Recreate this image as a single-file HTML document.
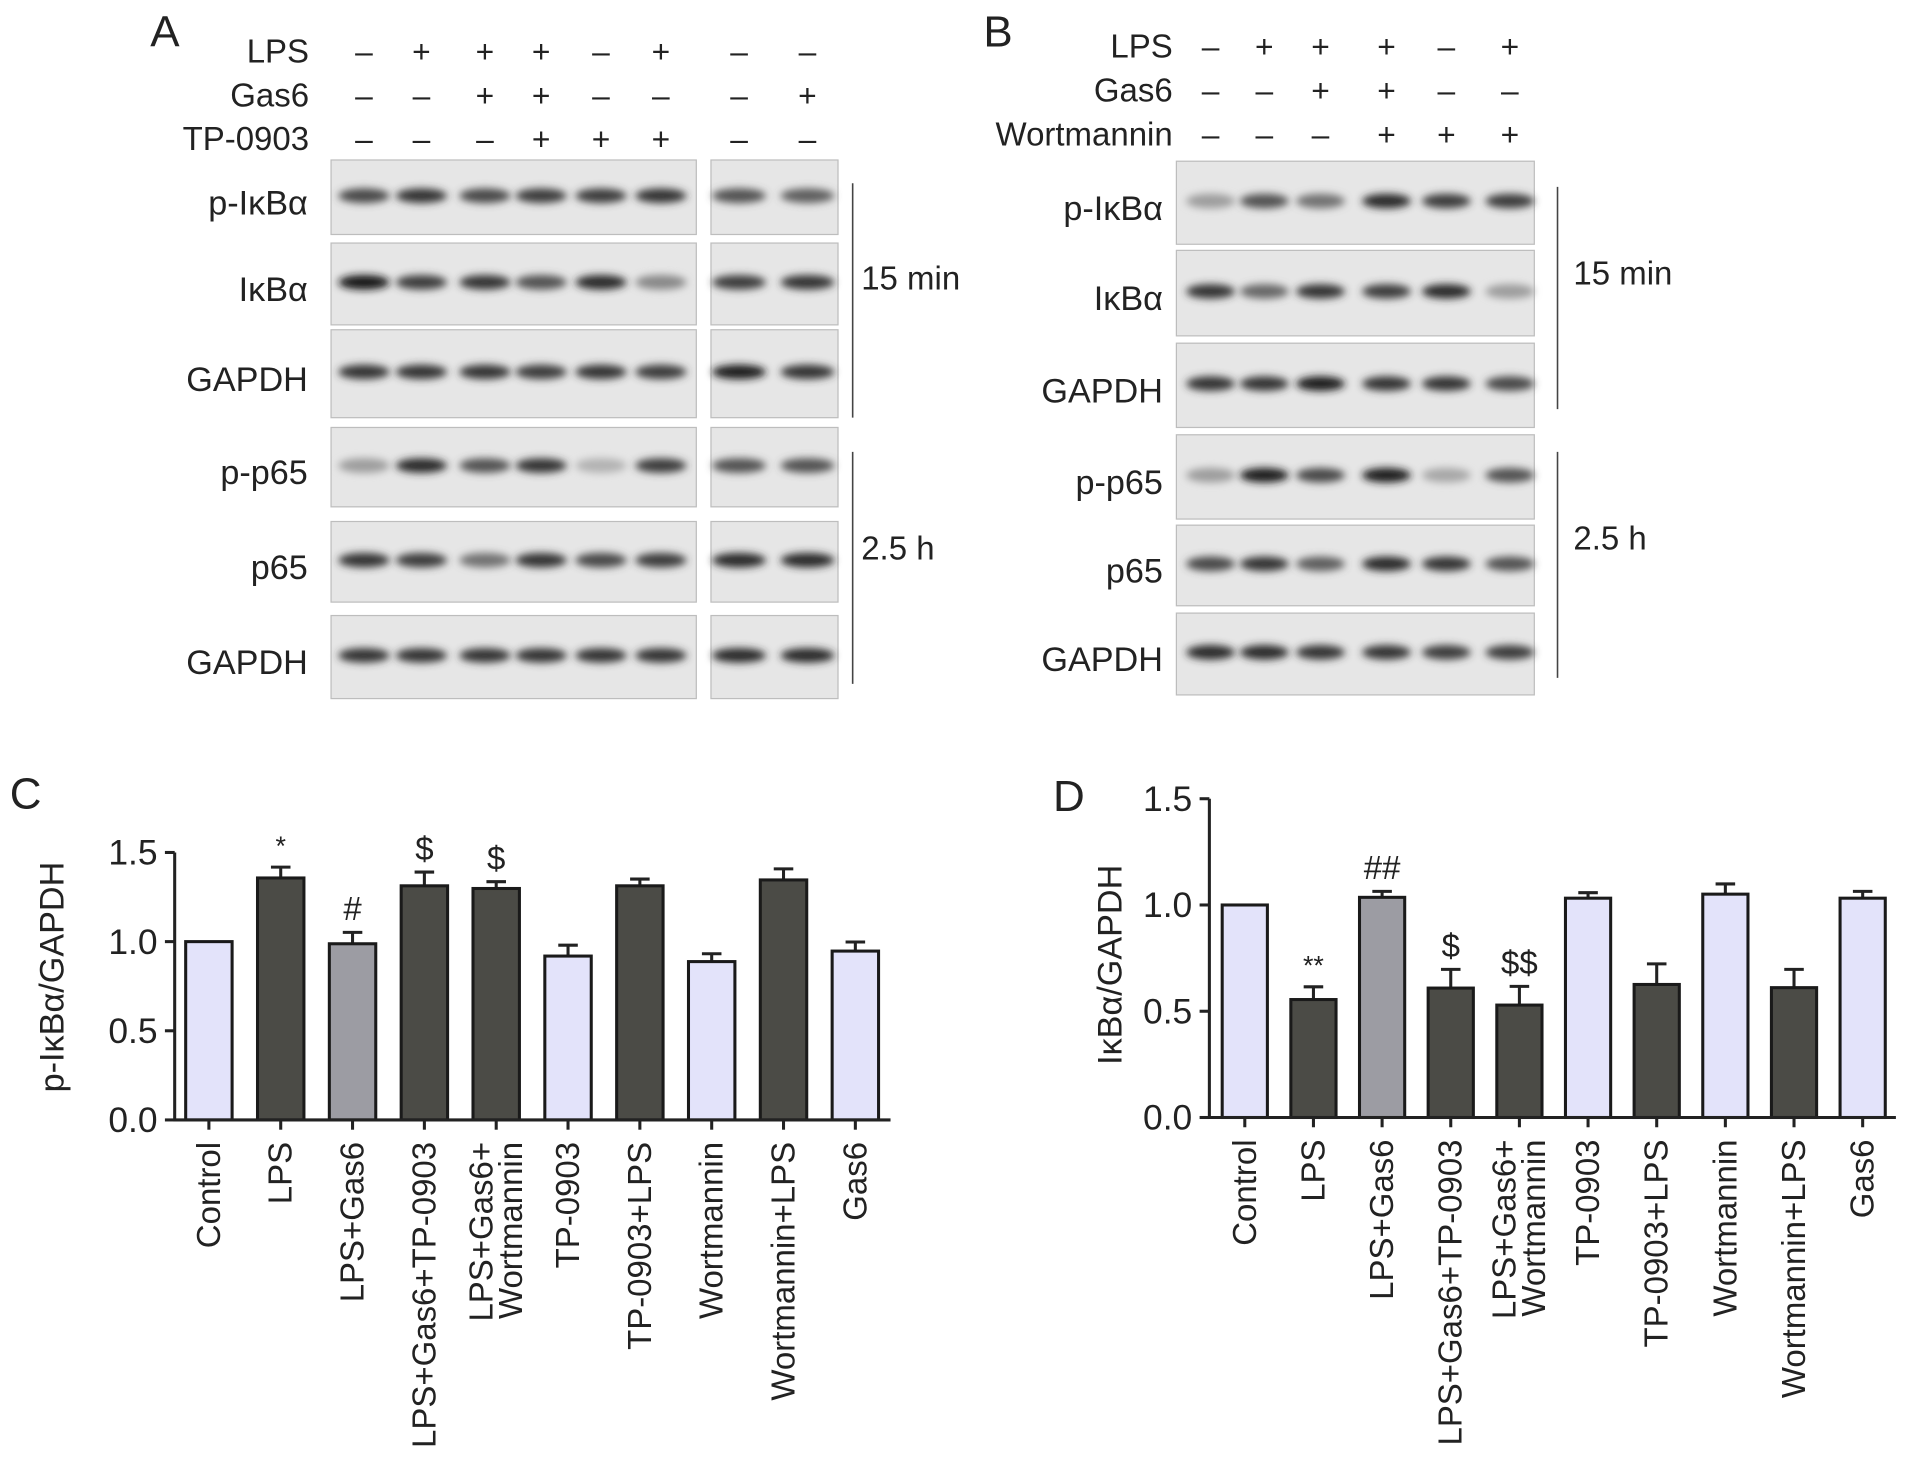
<!DOCTYPE html>
<html><head><meta charset="utf-8"><style>
html,body{margin:0;padding:0;background:#fff;}
svg{display:block;font-family:"Liberation Sans",Arial,sans-serif;}
</style></head><body>
<svg id="fig" width="1913" height="1479" viewBox="0 0 1566 1211" preserveAspectRatio="none" xmlns="http://www.w3.org/2000/svg">
<defs>
<filter id="blur" x="-50%" y="-100%" width="200%" height="300%"><feGaussianBlur stdDeviation="3.2"/></filter>
</defs>
<rect width="1566" height="1211" fill="#fff"/>
<g id="blots"></g>
<g id="chartC"></g>
<g id="chartD"></g>
</svg>
<script>
// ---- Chart data ----
const categories = ["Control","LPS","LPS+Gas6","LPS+Gas6+TP-0903","LPS+Gas6+|Wortmannin","TP-0903","TP-0903+LPS","Wortmannin","Wortmannin+LPS","Gas6"];
const barGroups = ["light","dark","mid","dark","dark","light","dark","light","dark","light"];
const cValues = [1.0,1.357,0.988,1.313,1.298,0.919,1.313,0.888,1.346,0.947];
const cErrors = [0,0.061,0.064,0.077,0.038,0.061,0.038,0.044,0.062,0.051];
const cMarks = ["","*","#","$","$","","","","",""];
const dValues = [1.0,0.555,1.036,0.609,0.529,1.032,0.626,1.051,0.611,1.032];
const dErrors = [0,0.06,0.028,0.088,0.088,0.026,0.097,0.048,0.086,0.032];
const dMarks = ["","**","##","$","$$","","","","",""];
const yTicks = [0.0,0.5,1.0,1.5];
const yTickLabels = ["0.0","0.5","1.0","1.5"];
// blot band intensities (0..1)
const aBands = [
 [0.75,0.85,0.75,0.8,0.8,0.85, 0.7,0.65],
 [1.0,0.8,0.85,0.7,0.9,0.45, 0.8,0.85],
 [0.85,0.85,0.85,0.8,0.85,0.8, 0.95,0.85],
 [0.35,0.9,0.7,0.85,0.25,0.8, 0.7,0.7],
 [0.85,0.8,0.55,0.85,0.75,0.8, 0.9,0.9],
 [0.85,0.85,0.85,0.85,0.85,0.85, 0.9,0.9]];
const bBands = [
 [0.35,0.7,0.55,0.9,0.8,0.8],
 [0.85,0.6,0.85,0.8,0.9,0.35],
 [0.85,0.85,0.95,0.85,0.85,0.75],
 [0.35,0.95,0.75,0.95,0.3,0.7],
 [0.75,0.85,0.65,0.9,0.85,0.7],
 [0.9,0.9,0.85,0.85,0.8,0.8]];

const NS="http://www.w3.org/2000/svg";
function el(tag, attrs, parent){const e=document.createElementNS(NS,tag);for(const k in attrs)e.setAttribute(k,attrs[k]);parent.appendChild(e);return e;}
function txt(parent,x,y,s,size,anchor,extra){const t=el("text",Object.assign({x:x,y:y,"font-size":size,"text-anchor":anchor||"start",fill:"#222"},extra||{}),parent);t.textContent=s;return t;}

// ---- Blots ----
const blots=document.getElementById("blots");
function panelLetter(x,y,s){const t=txt(blots,x,y,s,36,"start");}
panelLetter(123,38,"A");panelLetter(805,38,"B");
function treatRows(rows,labelX,lanes){rows.forEach(r=>{const l=txt(blots,labelX,r.y+9,r.name,27,"end");r.signs.forEach((s,i)=>{const g=txt(blots,lanes[i],r.y+9,s==="+"?"+":"–",26,"middle");});});}
const aLanes=[298,345,397,443,492,541,605,661];
treatRows([{name:"LPS",y:42,signs:["-","+","+","+","-","+","-","-"]},{name:"Gas6",y:78,signs:["-","-","+","+","-","-","-","+"]},{name:"TP-0903",y:114,signs:["-","-","-","+","+","+","-","-"]}],253,aLanes);
const bLanes=[991,1035,1081,1135,1184,1236];
treatRows([{name:"LPS",y:38,signs:["-","+","+","+","-","+"]},{name:"Gas6",y:74,signs:["-","-","+","+","-","-"]},{name:"Wortmannin",y:110,signs:["-","-","-","+","+","+"]}],960,bLanes);

const rowNames=["p-IκBα","IκBα","GAPDH","p-p65","p65","GAPDH"];
function drawBlot(x,w,y,h,lanes,ints,laneW){
  const g=el("g",{},blots);
  
  
  el("rect",{x:x,y:y,width:w,height:h,fill:"#e6e6e6",stroke:"#bdbdbd","stroke-width":1},g);
  lanes.forEach((cx,i)=>{const v=ints[i];const c=Math.round(230-v*210);
    el("ellipse",{cx:cx,cy:y+h*0.48,rx:laneW,ry:6,fill:`rgb(${c},${c},${c})`,filter:"url(#blur)"},g);});
}
const aRows=[[131,61],[199,67],[270,72],[350,65],[427,66],[504,68]];
aRows.forEach((r,i)=>{
  drawBlot(271,299,r[0],r[1],aLanes.slice(0,6),aBands[i].slice(0,6),21);
  drawBlot(582,104,r[0],r[1],aLanes.slice(6),aBands[i].slice(6),22);
  const l=txt(blots,252,r[0]+r[1]/2+14,rowNames[i],28,"end");
});
const bRows=[[132,68],[205,70],[281,69],[356,69],[430,66],[502,67]];
bRows.forEach((r,i)=>{
  drawBlot(963,293,r[0],r[1],bLanes,bBands[i],20);
  const l=txt(blots,952,r[0]+r[1]/2+14,rowNames[i],28,"end");
});
[[698,150,342],[698,370,560],[1275,153,335],[1275,370,555]].forEach(b=>{const ln=el("line",{x1:b[0],y1:b[1],x2:b[0],y2:b[2],stroke:"#444","stroke-width":1.3},blots);});
[[705,237,"15 min"],[705,458,"2.5 h"],[1288,233,"15 min"],[1288,450,"2.5 h"]].forEach(t=>{const e=txt(blots,t[0],t[1],t[2],27,"start");});

// ---- Charts ----
const fills={light:"#e3e3fa",dark:"#4b4b46",mid:"#9c9ca3"};
function drawChart(gid,o,values,errors,marks,letter,ylabel){
  const g=document.getElementById(gid);
  const y=v=>o.y0-v*o.unit;
  const x=i=>o.x0+o.first+i*o.step;
  const L=txt(g,o.letterX,o.letterY,letter,36,"start");
  
  
  const yl=txt(g,0,0,ylabel,28,"middle",{transform:`translate(${o.ylabX},${o.ylabY}) rotate(-90)`});
  
  
  values.forEach((v,i)=>{
    const cx=x(i);
    if(errors[i]>0){const e=el("path",{d:`M${cx},${y(v)} V${y(v+errors[i])} M${cx-8},${y(v+errors[i])} H${cx+8}`,stroke:"#222","stroke-width":2.5,fill:"none"},g);
      
      }
    const b=el("rect",{x:cx-o.bw/2,y:y(v),width:o.bw,height:o.y0-y(v),fill:fills[barGroups[i]],stroke:"#1a1a1a","stroke-width":2.5},g);
    
    
    if(marks[i]){const m=txt(g,cx,y(v+errors[i])-10,marks[i],marks[i].indexOf('*')>=0?22:27,"middle");
      
      }
    const tk=el("line",{x1:cx,y1:o.y0,x2:cx,y2:o.y0+8,stroke:"#222","stroke-width":2.5},g);
    
    
    const parts=categories[i].split('|');
    parts.forEach((p,k)=>{const off=(k-(parts.length-1)/2)*24;
      const t=txt(g,0,0,p,27,"end",{transform:`translate(${cx+9+off},${o.y0+18}) rotate(-90)`});
      
      });
  });
  const ax=el("path",{d:`M${o.x0},${y(1.5)} V${o.y0} H${o.xEnd}`,stroke:"#222","stroke-width":2.5,fill:"none"},g);
  
  
  yTicks.forEach((v,k)=>{
    const t=el("line",{x1:o.x0-8,y1:y(v),x2:o.x0,y2:y(v),stroke:"#222","stroke-width":2.5},g);
    
    
    const l=txt(g,o.x0-14,y(v)+10,yTickLabels[k],29,"end");
    
    
  });
}
drawChart("chartC",{x0:143,y0:917,unit:146,first:28,step:58.8,bw:38,xEnd:729,letterX:8,letterY:662,ylabX:52,ylabY:800},cValues,cErrors,cMarks,"C","p-IκBα/GAPDH");
drawChart("chartD",{x0:990,y0:915,unit:174,first:29,step:56.2,bw:37,xEnd:1552,letterX:862,letterY:664,ylabX:918,ylabY:790},dValues,dErrors,dMarks,"D","IκBα/GAPDH");
</script>
</body></html>
